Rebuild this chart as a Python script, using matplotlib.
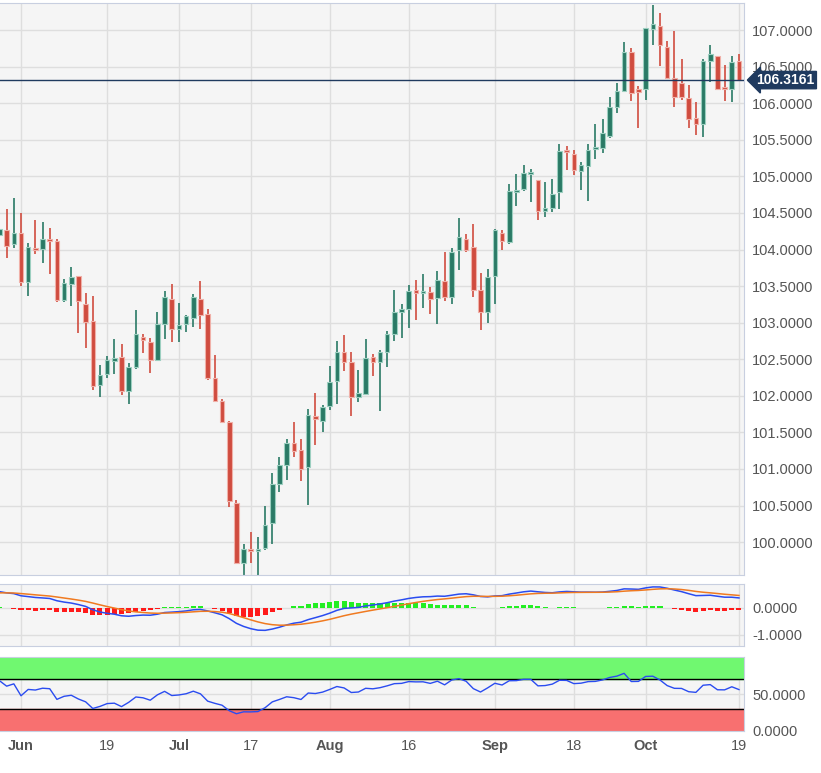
import numpy as np
import matplotlib
matplotlib.use("Agg")
import matplotlib.pyplot as plt
from matplotlib.patches import Rectangle

plt.rcParams['font.family'] = ['Liberation Sans', 'DejaVu Sans']

# OHLC, one row per weekday from 2023-05-29 to 2023-10-19
opens = [104.20,104.27,104.08,104.22,103.55,104.01,104.01,104.13,104.12,103.31,103.53,103.64,103.26,103.02,102.15,102.30,102.47,102.53,102.07,102.39,102.80,102.73,102.49,102.98,103.33,102.91,102.98,103.07,103.33,103.12,102.25,101.93,101.64,100.54,99.72,99.90,99.88,99.92,100.26,100.80,101.05,101.36,101.26,101.02,101.72,101.65,101.86,102.20,102.60,102.46,101.98,102.02,102.53,102.46,102.60,102.84,103.15,103.18,103.45,103.40,103.42,103.34,103.57,103.35,103.99,104.15,104.03,103.45,103.15,103.64,104.23,104.10,104.78,104.83,105.03,104.95,104.53,104.57,104.78,105.36,105.30,105.08,105.14,105.37,105.39,105.55,105.95,106.17,106.70,106.18,106.19,107.02,107.05,106.77,106.35,106.27,106.07,105.80,105.71,106.58,106.65,106.21,106.20,106.58]
highs = [104.30,104.55,104.71,104.50,104.09,104.41,104.38,104.29,104.14,103.60,103.76,103.64,103.40,103.37,102.42,102.55,102.78,102.71,102.45,103.17,102.84,102.79,103.14,103.43,103.53,103.27,103.11,103.39,103.57,103.18,102.56,101.96,101.66,100.58,99.98,100.14,100.07,100.50,100.94,101.16,101.41,101.64,101.41,101.82,102.04,101.87,102.41,102.75,102.83,102.60,102.35,102.78,102.57,102.62,102.89,103.44,103.26,103.51,103.58,103.66,103.49,103.71,103.97,104.02,104.43,104.21,104.35,103.68,103.73,104.28,104.27,104.90,105.03,105.15,105.10,104.95,104.92,104.97,105.44,105.42,105.36,105.20,105.44,105.71,105.78,106.09,106.27,106.83,106.75,106.24,107.03,107.34,107.24,106.85,106.99,106.60,106.25,106.01,106.60,106.80,106.65,106.52,106.65,106.67]
lows = [104.10,103.88,104.02,103.50,103.37,103.94,103.81,103.66,103.28,103.28,103.23,102.86,102.65,102.08,101.99,102.24,102.30,102.01,101.89,102.36,102.59,102.31,102.47,102.78,102.73,102.73,102.87,102.94,102.91,102.21,101.93,101.64,100.48,99.70,99.54,99.72,99.52,99.89,99.98,100.69,100.85,101.16,100.83,100.51,101.33,101.50,101.80,101.89,102.34,101.72,101.91,102.02,102.27,101.79,102.40,102.75,102.79,102.92,103.03,103.20,103.12,102.98,103.29,103.25,103.72,103.96,103.35,102.90,102.99,103.26,104.00,104.08,104.59,104.80,104.65,104.41,104.45,104.51,104.56,105.09,105.02,104.81,104.66,105.24,105.32,105.52,105.86,106.17,106.03,105.66,106.04,106.80,106.51,106.34,105.95,106.04,105.66,105.57,105.54,106.29,106.18,106.03,106.01,106.30]
closes = [104.28,104.05,104.22,103.55,104.03,103.99,104.14,104.11,103.31,103.54,103.62,103.29,103.01,102.13,102.28,102.49,102.52,102.07,102.39,102.85,102.76,102.49,102.98,103.35,102.91,102.97,103.09,103.35,103.10,102.25,101.93,101.64,100.56,99.72,99.90,99.88,99.91,100.24,100.80,101.06,101.36,101.24,101.00,101.74,101.68,101.85,102.19,102.60,102.46,101.98,102.04,102.51,102.46,102.60,102.84,103.14,103.18,103.43,103.41,103.42,103.32,103.58,103.35,103.97,104.17,104.00,103.45,103.15,103.62,104.26,104.11,104.80,104.82,105.05,105.05,104.53,104.57,104.76,105.34,105.33,105.09,105.15,105.36,105.39,105.59,105.95,106.17,106.70,106.14,106.16,107.03,107.08,106.80,106.34,106.09,106.08,105.78,105.72,106.58,106.67,106.20,106.19,106.57,106.3161]
last_price = 106.3161
date_ticks = [3, 15, 25, 35, 46, 57, 69, 80, 90, 103]
date_labels = ["Jun", "19", "Jul", "17", "Aug", "16", "Sep", "18", "Oct", "19"]
month_labels = {"Jun", "Jul", "Aug", "Sep", "Oct"}

# Indicator states at the first bar
ema12_start, ema26_start, signal_start = 104.00, 103.37, 0.55
avg_gain_start, avg_loss_start = 0.10, 0.05

closes = np.array(closes)
n = len(closes)
x = np.arange(n)

e12, e26, sig = ema12_start, ema26_start, signal_start
macd, signal = [], []
for c in closes:
    e12 += (c - e12) * 2 / 13
    e26 += (c - e26) * 2 / 27
    m = e12 - e26
    sig += (m - sig) * 2 / 10
    macd.append(m); signal.append(sig)
macd = np.array(macd); signal = np.array(signal); hist = macd - signal

ag, al = avg_gain_start, avg_loss_start
rsi = []
prev = closes[0] - 0.08
for c in closes:
    d = c - prev
    ag = (ag * 13 + max(d, 0)) / 14
    al = (al * 13 + max(-d, 0)) / 14
    rsi.append(100 - 100 / (1 + ag / al))
    prev = c
rsi = np.array(rsi)

W, H = 821, 773
fig = plt.figure(figsize=(W / 100, H / 100), dpi=100)
fig.patch.set_facecolor("white")

def axes_px(l, t, r, b):
    return fig.add_axes([l / W, 1 - b / H, (r - l) / W, (b - t) / H])

bg = "#f5f5f5"
gridc = "#dedede"
tc = "#555555"
xl = (0.075, 103.7)
green, red = "#2a7a66", "#d04c3f"

ax = axes_px(0, 3, 744, 575)
ax2 = axes_px(0, 584, 744, 646)
ax3 = axes_px(0, 657, 744, 731)
for a in (ax, ax2, ax3):
    a.set_facecolor(bg)
    a.set_xlim(*xl)
    for s in a.spines.values():
        s.set_color("#c8cfe0")
    a.spines["left"].set_visible(False)
    a.set_xticks(date_ticks)
    a.tick_params(axis="x", length=0, labelbottom=False)
    a.tick_params(axis="y", length=0, labelleft=False, labelright=True, labelcolor=tc, labelsize=10.5, pad=6)
    a.grid(True, color=gridc, lw=1)
    a.set_axisbelow(True)

o = np.array(opens); h = np.array(highs); l = np.array(lows)
for i in range(n):
    up = closes[i] >= o[i]
    col = green if up else red
    ec = "#9ccfc0" if up else "#f0b0a8"
    ax.vlines(x[i], l[i], h[i], color=col, lw=1.2, zorder=2)
    lo, hi = min(o[i], closes[i]), max(o[i], closes[i])
    hi = max(hi, lo + 0.03)
    ax.add_patch(Rectangle((x[i] - 0.32, lo), 0.64, hi - lo, facecolor=col, edgecolor=ec, lw=0.8, zorder=3))
ax.set_ylim(99.55, 107.37)
yt = np.arange(100, 107.01, 0.5)
ax.set_yticks(yt)
ax.set_yticklabels([f"{v:.4f}" for v in yt])
ax.axhline(last_price, color="#1f3a5f", lw=1, zorder=4)
ax.annotate(f"{last_price:.4f}", xy=(1.0, last_price), xycoords=("axes fraction", "data"),
            xytext=(9, 0), textcoords="offset points", va="center", ha="left",
            fontsize=10, fontweight="bold", color="white",
            bbox=dict(boxstyle="larrow,pad=0.12", fc="#1f3a5f", ec="#1f3a5f"), zorder=6,
            annotation_clip=False)

hc = ["#22ee22" if v >= 0 else "#ff1a1a" for v in hist]
ax2.bar(x, hist, width=0.7, color=hc, zorder=2)
ax2.plot(x, macd, color="#2a4cf0", lw=1.1, zorder=3)
ax2.plot(x, signal, color="#f07a20", lw=1.1, zorder=3)
ax2.set_ylim(-1.41, 0.89)
ax2.set_yticks([0, -1])
ax2.set_yticklabels(["0.0000", "-1.0000"])

ax3.axhspan(70, 100, color="#70f870", zorder=1)
ax3.axhspan(0, 30, color="#f87070", zorder=1)
ax3.axhline(70, color="black", lw=1, zorder=2)
ax3.axhline(30, color="black", lw=1, zorder=2)
ax3.plot(x, rsi, color="#2a4cf0", lw=1.0, zorder=3)
ax3.set_ylim(0, 100)
ax3.set_yticks([0, 50])
ax3.set_yticklabels(["0.0000", "50.0000"])
ax3.tick_params(axis="x", labelbottom=True, labelcolor=tc, labelsize=10.5, pad=6)
ax3.set_xticklabels(date_labels)
for t in ax3.get_xticklabels():
    if t.get_text() in month_labels:
        t.set_fontweight("bold")

fig.savefig("out.png", dpi=100)
